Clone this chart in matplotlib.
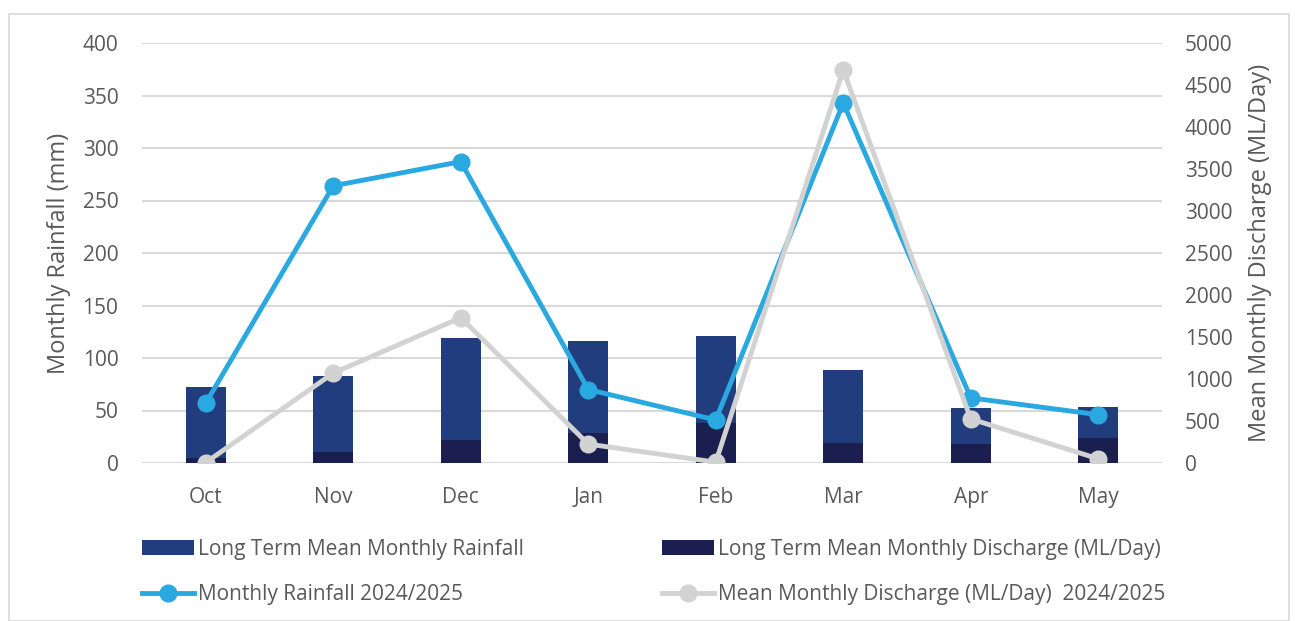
import matplotlib
matplotlib.use("Agg")
import matplotlib.pyplot as plt
from matplotlib.patches import Rectangle
from matplotlib.lines import Line2D
from matplotlib.patches import Patch

months = ["Oct", "Nov", "Dec", "Jan", "Feb", "Mar", "Apr", "May"]
lt_rainfall = [72, 83, 119, 116, 121, 89, 52, 53]            # mm
lt_discharge = [65, 130, 275, 355, 480, 240, 232, 298]        # ML/Day
rain_2425 = [57, 264, 287, 70, 41, 343, 62, 46]               # mm
discharge_2425 = [5, 1070, 1730, 225, 10, 4680, 525, 50]      # ML/Day

C_LTR = "#213D7E"
C_LTD = "#1B1F4F"
C_RAIN = "#2AA9E0"
C_DIS = "#D2D2D2"
C_TXT = "#595959"
C_GRID = "#D9D9D9"

plt.rcParams["font.family"] = ["Open Sans", "DejaVu Sans"]

fig = plt.figure(figsize=(12.95, 6.21), dpi=100)
fig.patches.append(Rectangle((9/1295, 0.0), (1289-9)/1295, 1 - 14/621,
                             transform=fig.transFigure, fill=False,
                             edgecolor="#D9D9D9", linewidth=1.2))

ax1 = fig.add_axes([142/1295, 1 - 463/621, 1020/1295, 420/621])
ax2 = ax1.twinx()

x = list(range(len(months)))
bw = 0.31

ax1.bar(x, lt_rainfall, width=bw, color=C_LTR, zorder=2)
ax1.set_ylim(0, 400)
ax1.set_yticks(range(0, 401, 50))
ax1.set_xlim(-0.5, len(months) - 0.5)
ax1.set_xticks(x)
ax1.set_xticklabels(months)
ax1.yaxis.grid(True, color=C_GRID, linewidth=1.5, zorder=0)
ax1.set_axisbelow(True)

ax2.set_ylim(0, 5000)
ax2.set_yticks(range(0, 5001, 500))
ax2.bar(x, lt_discharge, width=bw, color=C_LTD, zorder=1)
ax2.plot(x, rain_2425, transform=ax1.transData, color=C_RAIN, lw=3.5,
         marker="o", ms=12, zorder=2, solid_capstyle="round")
ax2.plot(x, discharge_2425, color=C_DIS, lw=3.5, marker="o", ms=12,
         zorder=3, solid_capstyle="round")

for ax in (ax1, ax2):
    for s in ax.spines.values():
        s.set_visible(False)
    ax.tick_params(axis="both", length=0, labelsize=15, colors=C_TXT)
ax1.tick_params(axis="y", pad=17)
ax1.tick_params(axis="x", pad=17)
ax2.tick_params(axis="y", pad=16.5)

ax1.set_ylabel("Monthly Rainfall (mm)", fontsize=17, color=C_TXT, labelpad=8)
ax2.set_ylabel("Mean Monthly Discharge (ML/Day)", fontsize=17, color=C_TXT, labelpad=11)

handles = [
    Patch(facecolor=C_LTR, edgecolor="none"),
    Line2D([], [], color=C_RAIN, lw=3.5, marker="o", ms=12),
    Patch(facecolor=C_LTD, edgecolor="none"),
    Line2D([], [], color=C_DIS, lw=3.5, marker="o", ms=12),
]
labels = [
    "Long Term Mean Monthly Rainfall",
    "Monthly Rainfall 2024/2025",
    "Long Term Mean Monthly Discharge (ML/Day)",
    "Mean Monthly Discharge (ML/Day)  2024/2025",
]
leg = fig.legend(handles, labels, ncol=2, loc="upper left",
                 bbox_to_anchor=(142/1295, 1 - 539/621), frameon=False,
                 borderpad=0, borderaxespad=0,
                 fontsize=15, labelcolor=C_TXT, handlelength=2.5,
                 handleheight=0.75, handletextpad=0.2, columnspacing=6.6,
                 labelspacing=1.15)

fig.savefig("out.png", dpi=100)
